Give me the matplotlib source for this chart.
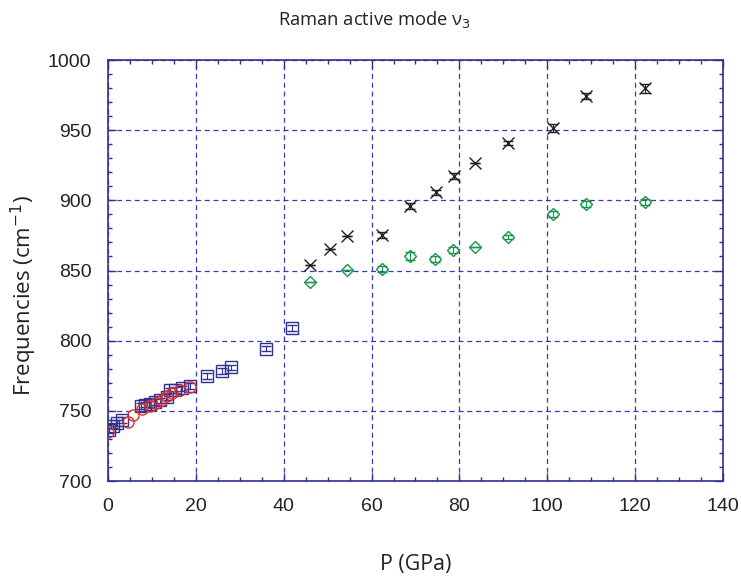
import matplotlib
matplotlib.use("Agg")
import matplotlib.pyplot as plt
from matplotlib.ticker import MultipleLocator

# ---- data ----
sq_P = [0.2, 1.2, 2.1, 3.3, 7.6, 8.5, 9.6, 10.7, 11.8, 13.4, 14.2, 15.3, 16.8, 18.6,
        22.5, 25.9, 28.0, 35.9, 41.8]
sq_f = [736, 739.5, 741.5, 743.5, 753.5, 754.5, 755, 756.5, 757.5, 760, 764.5, 765,
        766, 767.5, 775, 778.4, 781, 794.3, 809.2]
sq_err = [2, 2, 2, 2, 2, 2, 2, 2, 2, 2, 2, 2, 2, 2, 2, 2, 2, 2, 2]

ci_P = [0.1, 4.6, 5.8, 7.8, 9.5, 11.0, 12.2, 13.5, 14.5, 16.4, 18.7]
ci_f = [735, 742, 747, 751, 753.5, 755.5, 758, 760.5, 762.5, 765, 767]

x_P = [46.0, 50.5, 54.5, 62.4, 68.7, 74.6, 78.8, 83.5, 91.0, 101.4, 108.8, 122.2]
x_f = [854.2, 865.3, 874.8, 875.3, 896.0, 905.7, 917.4, 926.4, 940.6, 951.6, 974.3, 979.8]
x_err = [0, 0, 0, 2, 2, 2, 2, 0, 1.5, 3, 2, 3]

d_P = [46.0, 54.5, 62.4, 68.7, 74.5, 78.6, 83.5, 91.0, 101.4, 108.7, 122.2]
d_f = [842.0, 850.4, 850.9, 860.3, 858.2, 864.6, 866.5, 873.6, 890.3, 897.2, 899.0]
d_err = [0, 0, 2, 3, 2, 2, 0, 1.5, 2, 2, 2]

x_ticks = [0, 20, 40, 60, 80, 100, 120, 140]
y_ticks = [700, 750, 800, 850, 900, 950, 1000]

plt.rcParams["font.family"] = ["Liberation Sans", "DejaVu Sans"]

navy = "#2e3192"
fig = plt.figure(figsize=(7.41, 5.77), dpi=100)
ax = fig.add_axes([108/741, 1-481/577, (723-108)/741, (481-60)/577])

ax.errorbar(sq_P, sq_f, yerr=sq_err, fmt="s", ms=8, mfc="none", mec=navy, mew=1.0,
            ecolor=navy, elinewidth=0.8, capsize=3.5, capthick=0.8, zorder=3)
ax.plot(ci_P, ci_f, "o", ms=8, mfc="none", mec="#e0322c", mew=1.0, zorder=4)
ax.errorbar(x_P, x_f, yerr=x_err, fmt="x", ms=8, mec="#222222", mew=1.0,
            ecolor="#222222", elinewidth=0.8, capsize=3.5, capthick=0.8, zorder=3)
ax.errorbar(d_P, d_f, yerr=d_err, fmt="D", ms=6, mfc="none", mec="#17964a", mew=1.0,
            ecolor="#17964a", elinewidth=0.8, capsize=3.5, capthick=0.8, zorder=3)

ax.set_xlim(0, 140)
ax.set_ylim(700, 1000)
ax.set_xticks(x_ticks)
ax.set_yticks(y_ticks)
ax.xaxis.set_minor_locator(MultipleLocator(5))
ax.yaxis.set_minor_locator(MultipleLocator(10))
ax.tick_params(which="both", direction="in", top=True, right=True, color=navy,
               labelsize=14, labelcolor="#222222")
ax.tick_params(which="major", length=6, width=1)
ax.tick_params(which="minor", length=3, width=1)
ax.tick_params(axis="x", pad=12)
ax.tick_params(axis="y", pad=12)
for s in ax.spines.values():
    s.set_color(navy)
    s.set_linewidth(1.2)

ax.grid(True, which="major", color="#3a3aa8", linestyle=(0, (4, 3)), linewidth=0.9)

ax.set_title("Raman active mode ν$_3$", fontsize=13.2, family="Open Sans", pad=25,
             color="#222222", x=0.434)
ax.set_xlabel("P (GPa)", fontsize=15.4, family="Open Sans", labelpad=28, color="#222222")
ax.set_ylabel("Frequencies (cm$^{-1}$)", fontsize=16, family="Open Sans", labelpad=6,
              color="#222222", y=0.44)

fig.savefig("out.png", dpi=100)
